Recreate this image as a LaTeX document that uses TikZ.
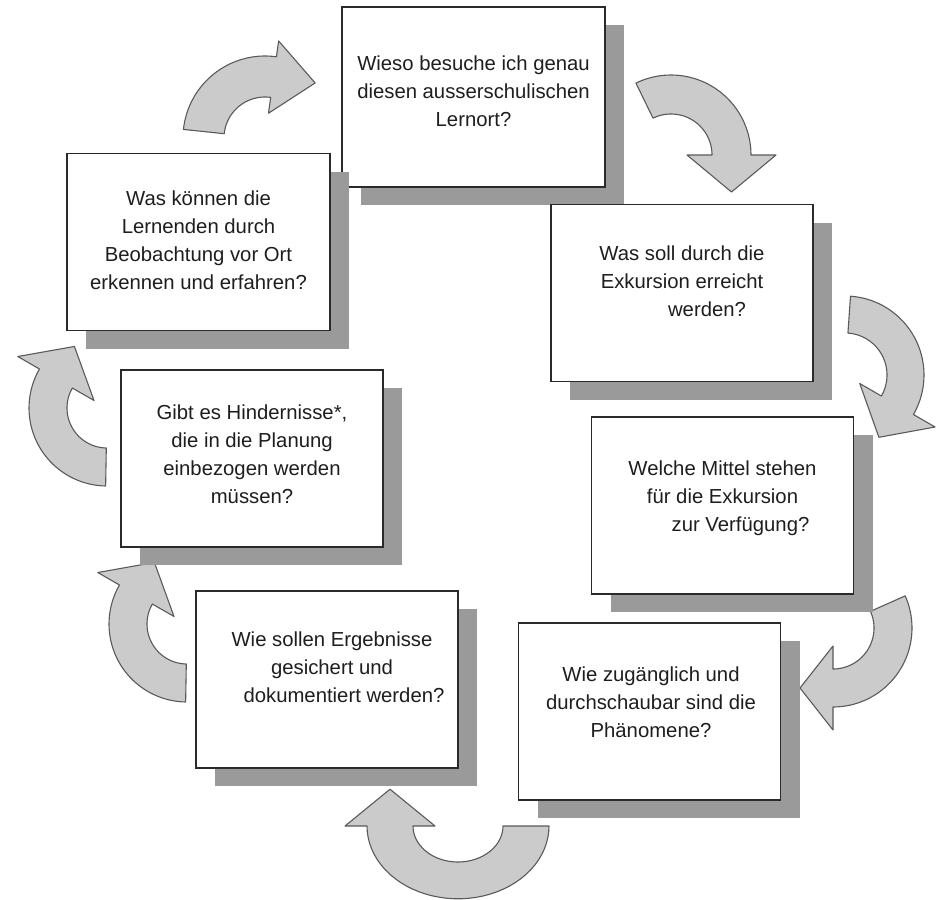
\documentclass[tikz,border=0pt]{standalone}
\usepackage{fontspec}
\setmainfont{Liberation Sans}
\usetikzlibrary{shadows}
\definecolor{shadowgray}{HTML}{9A9A9A}
\definecolor{arrowfill}{HTML}{CBCBCB}
\definecolor{arrowline}{HTML}{5A5A5A}
\definecolor{boxline}{HTML}{2A2A2A}
\definecolor{txtcol}{HTML}{1E1E1E}
% curved block arrow: cx, cy, r_in, r_out, start angle, end angle, head extension, head length
\newcommand\blockarrow[8]{%
  \pgfmathsetmacro\BAsgn{(#6>#5)*2-1}%
  \pgfmathsetmacro\BArm{(#3+#4)/2}%
  \pgfmathsetmacro\BAtx{#1+\BArm*cos(#6)+#8*cos(#6+\BAsgn*90)}%
  \pgfmathsetmacro\BAty{#2+\BArm*sin(#6)+#8*sin(#6+\BAsgn*90)}%
  \draw[arrowstyle] plot[domain=#5:#6,samples=40] ({#1+#4*cos(\x)},{#2+#4*sin(\x)})
    -- ({#1+(#4+#7)*cos(#6)},{#2+(#4+#7)*sin(#6)})
    -- (\BAtx,\BAty)
    -- ({#1+(#3-#7)*cos(#6)},{#2+(#3-#7)*sin(#6)})
    -- plot[domain=#6:#5,samples=40] ({#1+#3*cos(\x)},{#2+#3*sin(\x)})
    -- cycle;}
\begin{document}
\begin{tikzpicture}[x=1pt,y=-1pt,
  box/.style={draw=boxline, line width=1.8pt, fill=white, minimum width=262pt,
    minimum height=177pt, inner sep=0pt,
    drop shadow={shadow xshift=19pt, shadow yshift=-18pt, fill=shadowgray, opacity=1}},
  txt/.style={text=txtcol, align=center, font=\fontsize{20.3pt}{28pt}\selectfont, inner sep=0pt},
  arrowstyle/.style={fill=arrowfill, draw=arrowline, line width=1.1pt, line join=round}]
\fill[white] (0,0) rectangle (939,899);
\useasboundingbox (0,0) rectangle (939,899);

% arrows
\blockarrow{265}{138}{41}{82}{186}{278}{16}{42}
\blockarrow{671}{155}{41}{80}{244}{360}{25}{37}
\blockarrow{845}{375}{42}{79}{274}{390}{25}{37}
\blockarrow{833}{628}{41}{79}{-24}{90}{23}{33}
\begin{scope}[shift={(458,826)}, yscale=0.8]
\blockarrow{0}{0}{45}{91}{0}{180}{22}{46}
\end{scope}
\blockarrow{187}{624}{40}{78}{91}{210}{25}{37}
\blockarrow{107}{408}{40}{78}{91}{210}{25}{37}

% boxes
\node[box, minimum width=263pt, minimum height=180pt] (b1) at (473.5,97) {};
\node[box] (b2) at (682,293) {};
\node[box] (b3) at (722.5,505.5) {};
\node[box] (b4) at (649.5,711.5) {};
\node[box] (b5) at (327,679.5) {};
\node[box] (b6) at (252,458.5) {};
\node[box, minimum width=263pt] (b7) at (198.5,242) {};

% texts
\node[txt] (t1) at (473.5,91) {Wieso besuche ich genau\\diesen ausserschulischen\\Lernort?};
\node[txt] (t2) at (682,281) {Was soll durch die\\Exkursion erreicht\\\hspace*{50pt}werden?};
\node[txt] (t3) at (722.5,498.5) {Welche Mittel stehen\\für die Exkursion\hspace*{32pt}\\\hspace*{36pt}zur Verfügung?};
\node[txt] (t4) at (651,702.5) {Wie zugänglich und\\durchschaubar sind die\\Phänomene?};
\node[txt] (t5) at (332,667.5) {Wie sollen Ergebnisse\\gesichert und\\\hspace*{24pt}dokumentiert werden?};
\node[txt] (t6) at (252,454) {Gibt es Hindernisse*,\\die in die Planung\\einbezogen werden\\müssen?};
\node[txt] (t7) at (198.5,240) {Was können die\\Lernenden durch\\Beobachtung vor Ort\\erkennen und erfahren?};
\end{tikzpicture}
\end{document}
